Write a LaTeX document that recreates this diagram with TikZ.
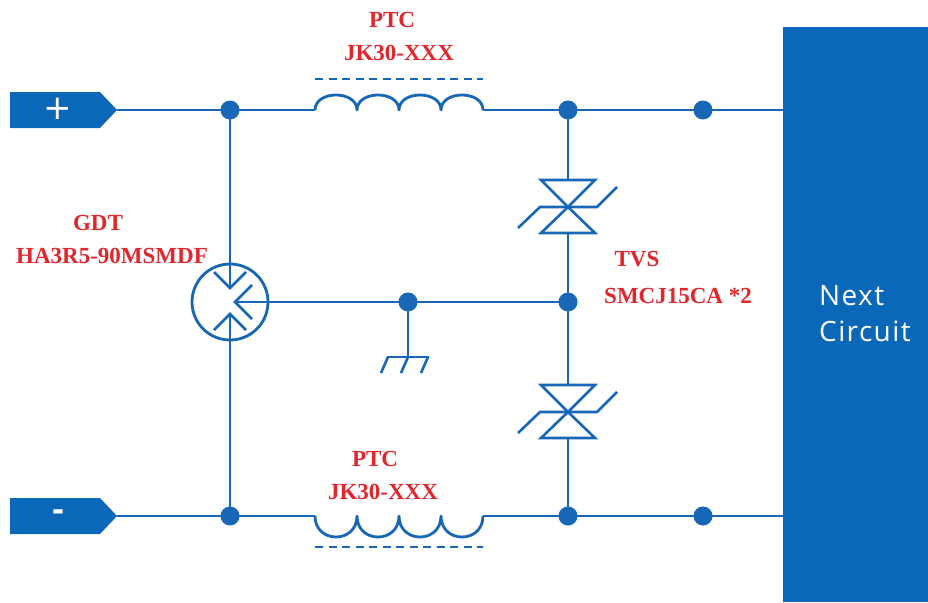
\documentclass[tikz,border=0pt]{standalone}
\usepackage{fontspec}
\setmainfont{Liberation Serif}
\newfontfamily\boxsans[LetterSpace=5]{Open Sans}
\newfontfamily\symsans{DejaVu Sans}
\definecolor{wireblue}{HTML}{1767B6}
\definecolor{boxblue}{HTML}{0B68B8}
\definecolor{labelred}{HTML}{E2262C}
\begin{document}
\begin{tikzpicture}[x=1pt,y=-1pt,
  wire/.style={draw=wireblue,line width=2.8pt},
  thin wire/.style={draw=wireblue,line width=2.6pt,line join=miter},
  junction/.style={circle,fill=wireblue,inner sep=0pt,minimum size=19pt},
  redlabel/.style={text=labelred,font=\bfseries\fontsize{23}{25}\selectfont,inner sep=0pt},
  termbox/.style={fill=boxblue},
  dashline/.style={draw=wireblue,line width=2.6pt,dash pattern=on 8pt off 5.5pt}]
\useasboundingbox (0,0) rectangle (928,602);
\fill[white] (0,0) rectangle (928,602);

% Next circuit box
\fill[boxblue] (783,27) rectangle (928,602);
\node[anchor=west,text=white,font=\boxsans\fontsize{28}{30}\selectfont,inner sep=0pt] (next) at (819,296) {Next};
\node[anchor=west,text=white,font=\boxsans\fontsize{28}{30}\selectfont,inner sep=0pt] (circ) at (819,331) {Circuit};

% terminals
\coordinate (ptip) at (117,110);
\coordinate (mtip) at (117,516);
\fill[termbox] (10,92) -- (100,92) -- (ptip) -- (100,128) -- (10,128) -- cycle;
\fill[termbox] (10,498) -- (100,498) -- (mtip) -- (100,534) -- (10,534) -- cycle;
\node[text=white,font=\symsans\fontsize{34}{34}\selectfont,inner sep=0pt] (plus) at (58,109) {+};
\node[text=white,font=\symsans\bfseries\fontsize{30}{30}\selectfont,inner sep=0pt] (minus) at (58,515) {-};

% junctions coordinates
\coordinate (jTL) at (230,110);
\coordinate (jBL) at (230,516);
\coordinate (jTR) at (568,110);
\coordinate (jBR) at (568,516);
\coordinate (jTF) at (703,110);
\coordinate (jBF) at (703,516);
\coordinate (jG) at (408,302);
\coordinate (jM) at (568,302);
\coordinate (boxT) at (783,110);
\coordinate (boxB) at (783,516);

% top wire with PTC
\coordinate (ptcTa) at (315,110);
\coordinate (ptcTb) at (483,110);
\draw[wire] (ptip) -- (jTL) -- (ptcTa);
\draw[wire,line join=round]
  (ptcTa) .. controls (315,90) and (357,90) .. (357,110)
  .. controls (357,90) and (399,90) .. (399,110)
  .. controls (399,90) and (441,90) .. (441,110)
  .. controls (441,90) and (483,90) .. (ptcTb);
\draw[wire] (ptcTb) -- (jTR) -- (jTF) -- (boxT);
\draw[dashline] (315,79) -- (483,79);

% bottom wire with PTC
\coordinate (ptcBa) at (315,516);
\coordinate (ptcBb) at (483,516);
\draw[wire] (mtip) -- (jBL) -- (ptcBa);
\draw[wire,line join=round]
  (ptcBa) .. controls (315,544) and (357,544) .. (357,516)
  .. controls (357,544) and (399,544) .. (399,516)
  .. controls (399,544) and (441,544) .. (441,516)
  .. controls (441,544) and (483,544) .. (ptcBb);
\draw[wire] (ptcBb) -- (jBR) -- (jBF) -- (boxB);
\draw[dashline] (315,547) -- (483,547);

% GDT
\coordinate (gdt) at (230,302);
\coordinate (gTop) at (230,288);
\coordinate (gBot) at (230,314);
\coordinate (gRight) at (235,302);
\draw[wire] (gdt) circle[radius=38];
\draw[wire] (jTL) -- (gTop);
\draw[wire] (gBot) -- (jBL);
\draw[thin wire] (214,272) -- (gTop) -- (246,272);
\draw[thin wire] (214,330) -- (gBot) -- (246,330);
\draw[thin wire] (252,285) -- (gRight) -- (252,319);
\draw[wire] (gRight) -- (jG) -- (jM);

% ground
\coordinate (gnd) at (408,357);
\draw[wire] (jG) -- (gnd);
\draw[thin wire] (387,357) -- (429,357);
\draw[thin wire] (388,357) -- (381,373);
\draw[thin wire] (408,357) -- (401,373);
\draw[thin wire] (428,357) -- (421,373);

% TVS 1
\coordinate (t1top) at (568,180);
\coordinate (t1bot) at (568,233);
\coordinate (t1c) at (568,207);
\draw[thin wire] (541,180) -- (595,180) -- (t1c) -- cycle;
\draw[thin wire] (541,233) -- (595,233) -- (t1c) -- cycle;
\draw[thin wire] (518,228) -- (540,207) -- (597,207) -- (617,187);
% TVS 2
\coordinate (t2top) at (568,385);
\coordinate (t2bot) at (568,438);
\coordinate (t2c) at (568,412);
\draw[thin wire] (541,385) -- (595,385) -- (t2c) -- cycle;
\draw[thin wire] (541,438) -- (595,438) -- (t2c) -- cycle;
\draw[thin wire] (518,433) -- (540,412) -- (597,412) -- (617,392);

\draw[wire] (jTR) -- (t1top);
\draw[wire] (t1bot) -- (jM) -- (t2top);
\draw[wire] (t2bot) -- (jBR);

% junction dots
\foreach \j in {jTL,jBL,jTR,jBR,jTF,jBF,jG,jM}
  \node[junction] at (\j) {};

% labels
\node[redlabel] (ptc1) at (392,20) {PTC};
\node[redlabel] (ptc1n) at (399,53) {JK30-XXX};
\node[redlabel] (ptc2) at (375,459) {PTC};
\node[redlabel] (ptc2n) at (383,492) {JK30-XXX};
\node[redlabel] (gdtl) at (98,223) {GDT};
\node[redlabel] (gdtn) at (112,256) {HA3R5-90MSMDF};
\node[redlabel] (tvsl) at (637,259) {TVS};
\node[redlabel] (tvsn) at (678,296) {SMCJ15CA *2};
\end{tikzpicture}
\end{document}
